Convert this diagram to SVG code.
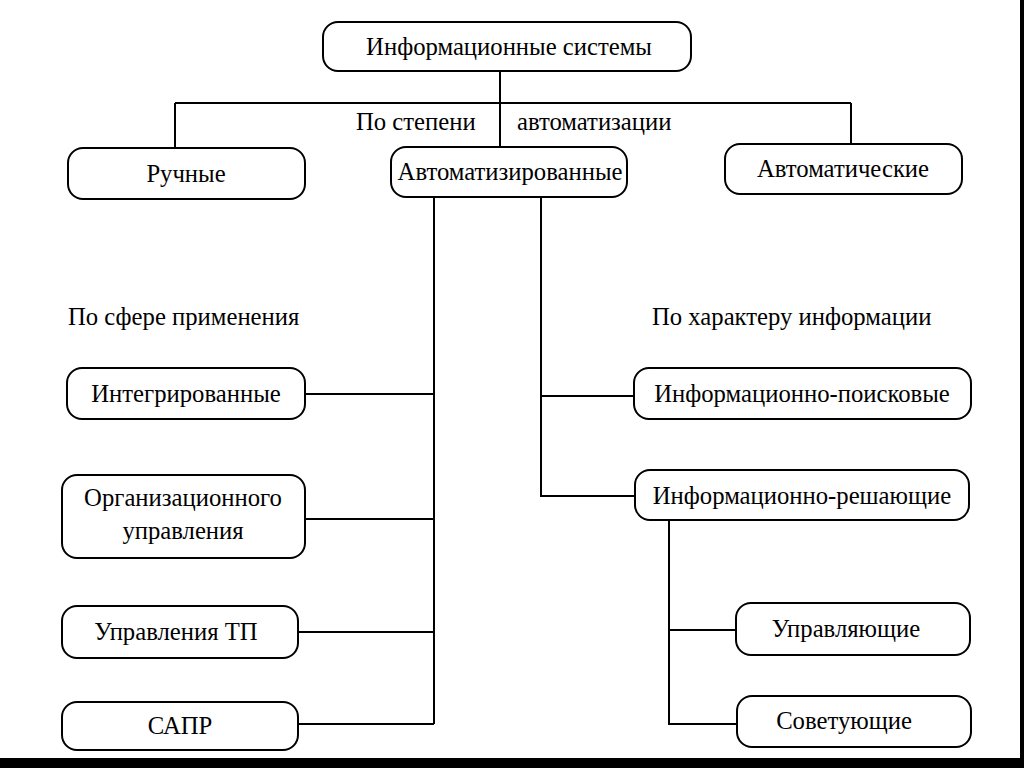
<svg xmlns="http://www.w3.org/2000/svg" width="1024" height="768" viewBox="0 0 1024 768">
<style>
.box{fill:#fff;stroke:#000;stroke-width:2}
.t{font-family:"Liberation Serif","Times New Roman",serif;font-size:24.7px;fill:#000;text-anchor:middle}
.l{font-family:"Liberation Serif","Times New Roman",serif;font-size:24.7px;fill:#000}
.c{fill:none;stroke:#000;stroke-width:2}
</style>
<rect width="1024" height="768" fill="#fff"/>
<g id="connectors">
<path class="c" d="M500 71V147M175 103H851M175 103V148M851 103V144"/>
<path class="c" d="M434 197V724M305 394H434M305 519H434M298 632H434M298 724H434"/>
<path class="c" d="M541 197V496H635M541 396H634"/>
<path class="c" d="M669 520V724H737M669 630H736"/>
</g>
<g id="labels">
<text class="l" x="356" y="130">По степени</text>
<text class="l" x="517" y="130">автоматизации</text>
<text class="l" x="68" y="325">По сфере применения</text>
<text class="l" x="652" y="325">По характеру информации</text>
</g>
<g id="n-root"><rect class="box" x="323" y="22" width="368" height="49" rx="15"/><text class="t" x="509" y="55">Информационные системы</text></g>
<g id="n-manual"><rect class="box" x="68" y="148" width="237" height="51" rx="15"/><text class="t" x="186" y="182">Ручные</text></g>
<g id="n-automated"><rect class="box" x="391" y="147" width="236" height="50" rx="15"/><text class="t" x="510" y="180">Автоматизированные</text></g>
<g id="n-automatic"><rect class="box" x="725" y="144" width="237" height="50" rx="15"/><text class="t" x="843" y="177">Автоматические</text></g>
<g id="n-integrated"><rect class="box" x="67" y="368" width="238" height="51" rx="15"/><text class="t" x="186" y="402">Интегрированные</text></g>
<g id="n-org"><rect class="box" x="62" y="475" width="243" height="83" rx="15"/><text class="t" x="183" y="506">Организационного</text><text class="t" x="183" y="539">управления</text></g>
<g id="n-tp"><rect class="box" x="62" y="606" width="236" height="52" rx="15"/><text class="t" x="176" y="640">Управления ТП</text></g>
<g id="n-sapr"><rect class="box" x="62" y="702" width="236" height="48" rx="15"/><text class="t" x="180" y="734">САПР</text></g>
<g id="n-search"><rect class="box" x="634" y="368" width="337" height="51" rx="15"/><text class="t" x="802" y="402">Информационно-поисковые</text></g>
<g id="n-decide"><rect class="box" x="635" y="470" width="334" height="50" rx="15"/><text class="t" x="802" y="504">Информационно-решающие</text></g>
<g id="n-control"><rect class="box" x="736" y="603" width="234" height="52" rx="15"/><text class="t" x="846" y="637">Управляющие</text></g>
<g id="n-advise"><rect class="box" x="737" y="696" width="234" height="51" rx="15"/><text class="t" x="844" y="729">Советующие</text></g>
<rect x="1020" y="0" width="4" height="768" fill="#000"/>
<rect x="0" y="758" width="1024" height="10" fill="#000"/>
</svg>
